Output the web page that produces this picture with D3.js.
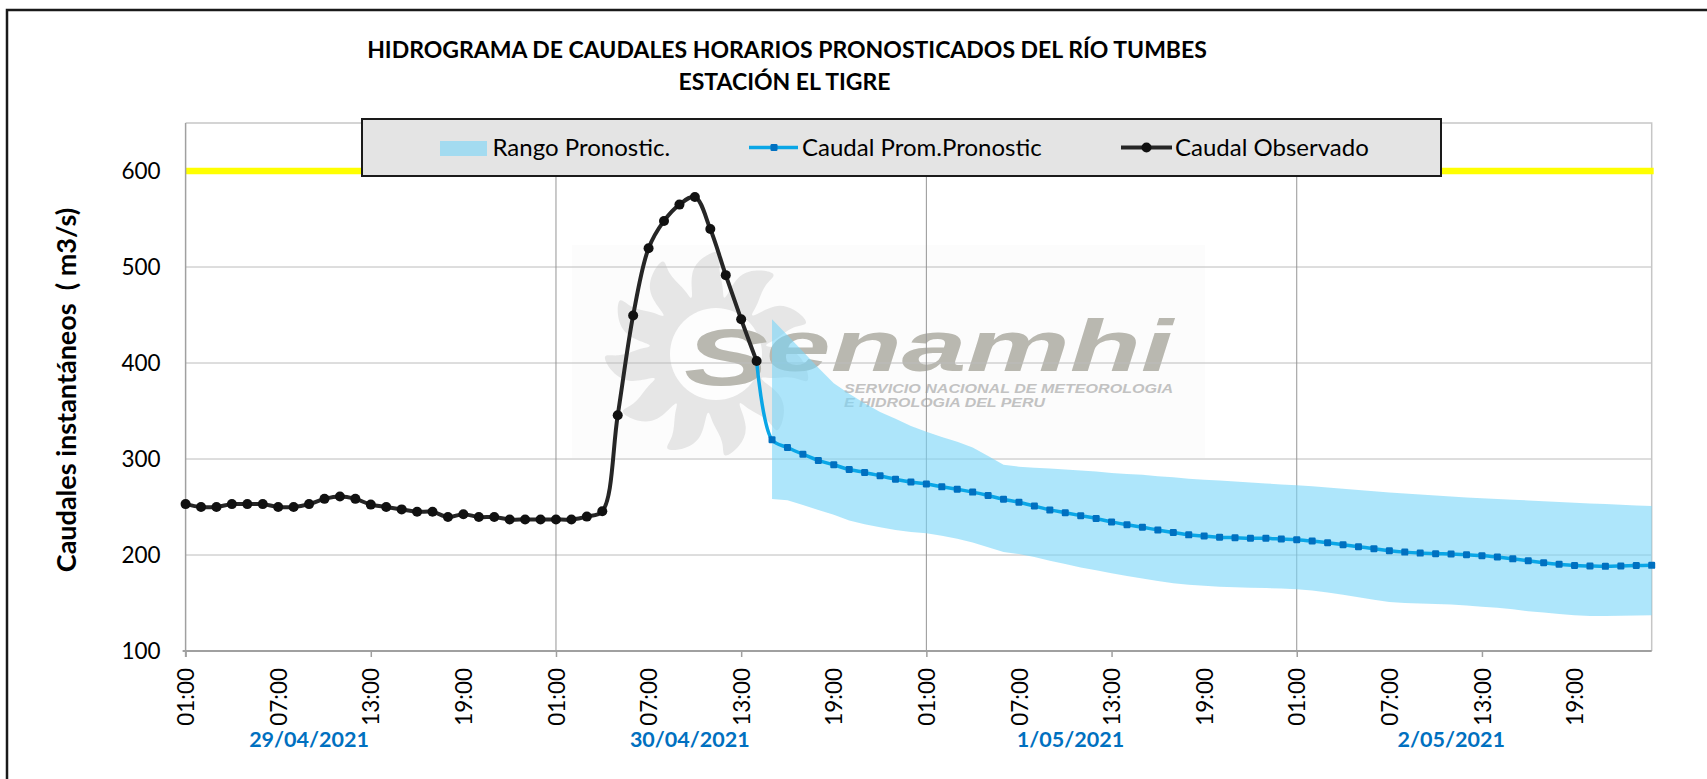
<!DOCTYPE html>
<html>
<head>
<meta charset="utf-8">
<script src="https://cdn.jsdelivr.net/npm/d3@7"></script>
<style>
    body { margin: 0; background: #fff; }
    svg { display: block; font-family: Lato, "Open Sans", sans-serif; }
</style>
</head>
<body>
<div id="chart"></div>
<script>
// indice horario: 0 = 29/04/2021 01:00 ... 95 = 03/05/2021 00:00
const titulo = ["HIDROGRAMA DE CAUDALES HORARIOS PRONOSTICADOS DEL RÍO TUMBES", "ESTACIÓN EL TIGRE"];
const tituloY = "Caudales instantáneos  ( m3/s)";
const dias = ["29/04/2021", "30/04/2021", "1/05/2021", "2/05/2021"];
const horas = ["01:00", "07:00", "13:00", "19:00"];
const yTicks = [100, 200, 300, 400, 500, 600];
const leyenda = ["Rango Pronostic.", "Caudal Prom.Pronostic", "Caudal Observado"];
const umbral = 600;
const nHoras = 96;

// caudal observado, desde la hora 0
const observado = [253, 250, 250, 253, 253, 253, 250, 250, 253, 258.5,
    261, 258.5, 252.5, 250, 247.5, 245, 245, 239.5, 242.5, 239.5,
    239.5, 237, 237, 237, 237, 237, 240, 245.5, 345.5, 449.5,
    519.5, 548, 565, 573, 539.5, 491.5, 445.5, 402];

// caudal promedio pronosticado, desde la hora 37
const inicioProm = 37;
const promedio = [402, 320, 312, 305, 298.5, 294, 289, 286, 282.5, 279,
    276, 274, 271, 268.5, 265.5, 262, 258, 255, 251, 247,
    244, 241, 238, 234.5, 231.5, 229, 226, 223.5, 221, 219.8,
    218.6, 218, 217.4, 217.4, 216.7, 216, 214.6, 212.8, 210.7, 208.6,
    206.6, 204.5, 203, 202, 201.4, 201, 200.3, 199.3, 198, 196,
    194, 192, 190.3, 189, 188.5, 188.2, 188.5, 189, 189.2];

// rango pronosticado (superior / inferior), desde la hora 38
const inicioRango = 38;
const rangoSup = [445.5, 429, 412, 395, 379, 368, 358, 349, 342, 334.5,
    328.5, 323, 318, 312, 303, 294, 292, 291, 290, 289,
    288, 287, 285.5, 284.5, 283.5, 282, 281, 279.5, 278.5, 277.5,
    276.5, 275.5, 274.5, 273.5, 272.6, 271.5, 270.3, 269, 267.8, 266.5,
    265.2, 264, 263, 262, 261, 260, 259.2, 258.4, 257.5, 256.8,
    256, 255.2, 254.5, 253.7, 253, 252.3, 251.6, 251];
const rangoInf = [258.3, 257, 252, 247, 242, 236, 232, 229, 226, 224,
    222.6, 220, 217, 213, 208, 203, 201, 198, 194, 190.5,
    187, 184, 181, 178, 175.5, 173, 170.5, 169, 168, 167,
    166.5, 166, 165.5, 165, 164.3, 163, 161, 158.5, 156, 153.5,
    151, 150, 149.5, 149, 148.5, 147.5, 146.2, 145, 143.5, 141.5,
    140, 138.5, 137.2, 136.5, 136.5, 136.8, 137, 137.3];

const W = 1707, H = 779;
const plot = {left: 185.6, right: 1651.7, top: 123, bottom: 651};

const colBand = "#78d6f8";
const colProm = "#0aa6e6";
const colPromMk = "#0070c0";
const colObs = "#262626";

const svg = d3.select("#chart").append("svg")
    .attr("width", W).attr("height", H);

// marco exterior (solo se ven borde superior e izquierdo)
svg.append("rect")
    .attr("x", 7).attr("y", 10).attr("width", 1900).attr("height", 1000)
    .attr("fill", "#fff").attr("stroke", "#1a1a1a").attr("stroke-width", 2.5);

const x = d3.scaleLinear().domain([0, nHoras - 1]).range([plot.left, plot.right]);
const y = d3.scaleLinear().domain([100, 650]).range([plot.bottom, plot.top]);

// ---- marca de agua Senamhi ----
const wm = svg.append("g");
wm.append("rect")
    .attr("x", 572).attr("y", 245).attr("width", 633).attr("height", 213)
    .attr("fill", "#fcfcfc");
// sol: 11 llamas anchas y curvadas
const sol = [];
d3.range(11).forEach(k => {
    const a = k * 2 * Math.PI / 11;
    sol.push([a - 0.26, 58], [a - 0.22, 84], [a - 0.06, 98], [a + 0.16, 108], [a + 0.10, 90], [a + 0.22, 70], [a + 0.26, 58]);
});
wm.append("path")
    .attr("transform", "translate(708,354)")
    .attr("d", d3.lineRadial().curve(d3.curveBasisClosed)(sol))
    .attr("fill", "#e6e6e6");
wm.append("circle")
    .attr("cx", 716).attr("cy", 354).attr("r", 46)
    .attr("fill", "#fdfdfd");
wm.append("text")
    .attr("x", 684).attr("y", 385)
    .attr("font-family", "Liberation Sans, Arial, sans-serif")
    .attr("font-weight", "bold").attr("font-style", "italic")
    .attr("font-size", 80).attr("textLength", 84).attr("lengthAdjust", "spacingAndGlyphs")
    .attr("fill", "#b9b8b0").text("S");
wm.append("text")
    .attr("x", 766).attr("y", 371)
    .attr("font-family", "Liberation Sans, Arial, sans-serif")
    .attr("font-weight", "bold").attr("font-style", "italic")
    .attr("font-size", 73).attr("textLength", 407).attr("lengthAdjust", "spacingAndGlyphs")
    .attr("fill", "#b9b8b0").text("enamhi");
wm.append("text")
    .attr("x", 844).attr("y", 393)
    .attr("font-family", "Liberation Sans, Arial, sans-serif")
    .attr("font-weight", "bold").attr("font-style", "italic")
    .attr("font-size", 13).attr("textLength", 329).attr("lengthAdjust", "spacingAndGlyphs")
    .attr("fill", "#c2c2c2").text("SERVICIO NACIONAL DE METEOROLOGIA");
wm.append("text")
    .attr("x", 844).attr("y", 407)
    .attr("font-family", "Liberation Sans, Arial, sans-serif")
    .attr("font-weight", "bold").attr("font-style", "italic")
    .attr("font-size", 13).attr("textLength", 201).attr("lengthAdjust", "spacingAndGlyphs")
    .attr("fill", "#c2c2c2").text("E HIDROLOGIA DEL PERU");

// ---- rejilla ----
svg.append("g").selectAll("line")
    .data(yTicks.slice(1))
    .join("line")
    .attr("x1", plot.left).attr("x2", plot.right)
    .attr("y1", d => y(d)).attr("y2", d => y(d))
    .attr("stroke", "#bcbcbc").attr("stroke-width", 1);
svg.append("g").selectAll("line")
    .data([24, 48, 72])
    .join("line")
    .attr("x1", d => x(d)).attr("x2", d => x(d))
    .attr("y1", plot.top).attr("y2", plot.bottom)
    .attr("stroke", "#959595").attr("stroke-width", 1);

// borde superior y derecho del area de trazado
svg.append("path")
    .attr("d", `M${plot.left},${plot.top}H${plot.right}V${plot.bottom}`)
    .attr("fill", "none").attr("stroke", "#c6c6c6").attr("stroke-width", 1.5);

// ---- rango pronosticado ----
const rangoData = rangoSup.map((s, i) => ({h: inicioRango + i, sup: s, inf: rangoInf[i]}));
svg.append("path")
    .datum(rangoData)
    .attr("fill", colBand).attr("fill-opacity", 0.6)
    .attr("d", d3.area()
        .x(d => x(d.h))
        .y0(d => y(d.inf))
        .y1(d => y(d.sup)));

// umbral amarillo
svg.append("line")
    .attr("x1", x(0)).attr("x2", x(nHoras - 1) + 2)
    .attr("y1", y(umbral)).attr("y2", y(umbral))
    .attr("stroke", "#ffff00").attr("stroke-width", 6.5);

// ---- ejes ----
svg.append("g")
    .attr("transform", `translate(${plot.left},0)`)
    .call(d3.axisLeft(y).tickValues(yTicks).tickSize(0).tickPadding(25))
    .call(g => g.select(".domain").remove())
    .call(g => g.selectAll("text").attr("font-size", 22.5).attr("fill", "#000")
        .attr("font-family", "Lato, sans-serif"));

svg.append("line")
    .attr("x1", plot.left).attr("x2", plot.left)
    .attr("y1", plot.top).attr("y2", plot.bottom + 6)
    .attr("stroke", "#a0a0a0").attr("stroke-width", 1.5);

svg.append("g")
    .attr("transform", `translate(0,${plot.bottom})`)
    .call(d3.axisBottom(x).tickValues(d3.range(0, nHoras, 12)).tickSize(6).tickFormat(""))
    .call(g => g.select(".domain").attr("d", `M${plot.left - 3},0H${plot.right}`)
        .attr("stroke", "#a0a0a0").attr("stroke-width", 2))
    .call(g => g.selectAll("line").attr("stroke", "#a0a0a0").attr("stroke-width", 1.5));

svg.append("g")
    .attr("transform", `translate(0,${plot.bottom})`)
    .call(d3.axisBottom(x).tickValues(d3.range(0, nHoras - 1, 6)).tickSize(0)
        .tickFormat(d => horas[(d / 6) % 4]))
    .call(g => g.select(".domain").remove())
    .call(g => g.selectAll("text")
        .attr("transform", "rotate(-90)")
        .attr("x", -17).attr("y", 0).attr("dy", "0.36em")
        .attr("text-anchor", "end")
        .attr("font-size", 22.5).attr("fill", "#000")
        .attr("font-family", "Lato, sans-serif"));

// fechas bajo el eje
svg.append("g").selectAll("text")
    .data(dias)
    .join("text")
    .attr("x", (d, i) => x(8 + i * 24.67))
    .attr("y", 747)
    .attr("text-anchor", "middle")
    .attr("font-size", 21.5).attr("font-weight", "bold")
    .attr("fill", "#0070c0")
    .text(d => d);

// titulo eje Y
svg.append("text")
    .attr("transform", "translate(76,390) rotate(-90)")
    .attr("text-anchor", "middle")
    .attr("font-size", 27).attr("font-weight", "bold")
    .style("white-space", "pre")
    .text(tituloY);

// ---- series ----
const obsData = observado.map((v, i) => ({h: i, v: v}));
const promData = promedio.map((v, i) => ({h: inicioProm + i, v: v}));
const linea = d3.line().x(d => x(d.h)).y(d => y(d.v)).curve(d3.curveCatmullRom.alpha(0.5));

svg.append("path")
    .datum(promData)
    .attr("fill", "none").attr("stroke", colProm).attr("stroke-width", 3.5)
    .attr("d", linea);
svg.append("g").selectAll("rect")
    .data(promData.slice(1))
    .join("rect")
    .attr("x", d => x(d.h) - 3.5).attr("y", d => y(d.v) - 3.5)
    .attr("width", 7).attr("height", 7).attr("rx", 1.2)
    .attr("fill", colPromMk);

svg.append("path")
    .datum(obsData)
    .attr("fill", "none").attr("stroke", colObs).attr("stroke-width", 4)
    .attr("d", linea);
svg.append("g").selectAll("circle")
    .data(obsData)
    .join("circle")
    .attr("cx", d => x(d.h)).attr("cy", d => y(d.v)).attr("r", 5)
    .attr("fill", "#111");

// ---- leyenda ----
const leg = svg.append("g");
leg.append("rect")
    .attr("x", 362).attr("y", 119).attr("width", 1079).attr("height", 57)
    .attr("fill", "#e4e4e4").attr("stroke", "#1a1a1a").attr("stroke-width", 2);
leg.append("rect")
    .attr("x", 440).attr("y", 141).attr("width", 47).attr("height", 15)
    .attr("fill", colBand).attr("fill-opacity", 0.6);
leg.append("line")
    .attr("x1", 749).attr("x2", 798).attr("y1", 147.5).attr("y2", 147.5)
    .attr("stroke", colProm).attr("stroke-width", 3.5);
leg.append("rect")
    .attr("x", 770.5).attr("y", 144).attr("width", 7).attr("height", 7).attr("rx", 1.2)
    .attr("fill", colPromMk);
leg.append("line")
    .attr("x1", 1121).attr("x2", 1172).attr("y1", 147.5).attr("y2", 147.5)
    .attr("stroke", colObs).attr("stroke-width", 4);
leg.append("circle")
    .attr("cx", 1146.5).attr("cy", 147.5).attr("r", 5).attr("fill", "#111");
leg.selectAll("text.lab")
    .data(leyenda)
    .join("text")
    .attr("class", "lab")
    .attr("x", (d, i) => [492.5, 802, 1175][i])
    .attr("y", 156)
    .attr("font-size", 24).attr("fill", "#000")
    .text(d => d);

// ---- titulo ----
svg.append("g").selectAll("text")
    .data(titulo)
    .join("text")
    .attr("x", (d, i) => i ? 784.5 : 787)
    .attr("y", (d, i) => i ? 90 : 58.3)
    .attr("text-anchor", "middle")
    .attr("font-size", 23).attr("font-weight", "bold")
    .text(d => d);
</script>
</body>
</html>
